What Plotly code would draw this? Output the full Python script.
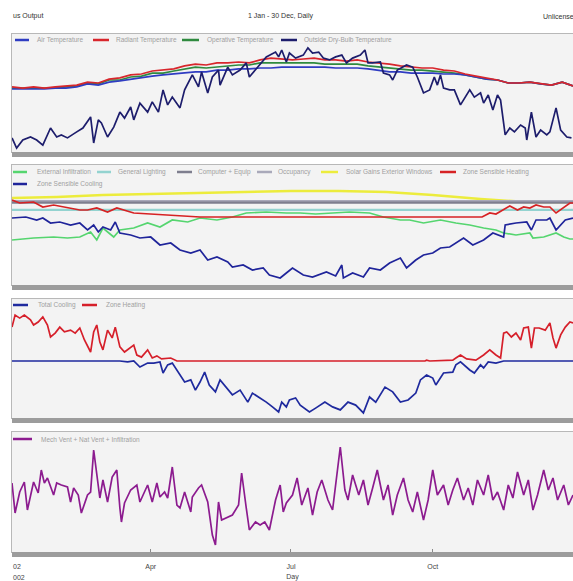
import pandas as pd
import plotly.graph_objects as go

# ---------------- DATA ----------------
# Panel 1 : temperatures (deg C)
indoor_days = [1, 8, 15, 22, 29, 36, 43, 50, 57, 64, 71, 78, 85, 92, 99, 106, 113, 120, 127, 134,
               141, 148, 155, 162, 169, 176, 183, 190, 197, 204, 211, 218, 225, 232, 239, 246, 253,
               260, 267, 274, 281, 288, 295, 302, 309, 316, 323, 330, 337, 344, 351, 358, 365]
radiant_temp = [21.7, 21.3, 21.7, 21.3, 21.7, 22.0, 22.3, 23.3, 23.0, 24.3, 24.7, 25.7, 26.0, 27.0,
                27.3, 27.7, 28.7, 29.3, 29.0, 29.7, 29.7, 30.0, 29.7, 30.7, 31.3, 31.0, 30.7, 31.0,
                31.3, 30.7, 30.7, 30.3, 30.7, 30.0, 29.7, 29.3, 28.7, 28.3, 28.0, 28.0, 27.3, 27.0,
                26.0, 25.3, 24.7, 24.0, 23.0, 23.0, 23.3, 22.7, 22.3, 23.3, 22.0]
operative_temp = [21.3, 21.3, 21.3, 21.3, 21.3, 21.7, 22.0, 23.0, 22.7, 24.0, 24.0, 25.0, 25.3, 26.3,
                  26.3, 27.0, 27.7, 28.3, 28.0, 28.3, 28.7, 29.0, 29.0, 29.7, 29.7, 29.7, 29.7, 29.7,
                  29.7, 29.3, 29.3, 29.3, 29.3, 28.7, 28.3, 28.0, 27.7, 27.3, 27.3, 27.0, 26.7, 26.3,
                  25.7, 25.0, 24.3, 24.0, 23.0, 23.0, 23.3, 22.7, 22.3, 23.3, 22.0]
air_temp = [21.0, 21.0, 21.0, 21.0, 21.3, 21.3, 21.7, 22.7, 22.3, 23.3, 23.7, 24.3, 24.7, 25.3,
            25.7, 26.0, 26.3, 26.7, 26.7, 27.3, 27.3, 27.7, 27.7, 28.0, 28.0, 28.3, 28.3, 28.3,
            28.3, 28.3, 28.0, 28.0, 28.0, 27.7, 27.3, 26.7, 26.7, 26.3, 26.3, 26.3, 26.0, 26.0,
            25.7, 25.0, 24.3, 24.0, 23.0, 23.0, 23.3, 22.7, 22.3, 23.3, 22.0]
outdoor_days = [1, 4, 8, 13, 17, 21, 26, 30, 33, 37, 43, 47, 52, 54, 57, 59, 63, 67, 71, 74,
                78, 80, 84, 89, 92, 96, 99, 102, 105, 110, 113, 117, 118, 122, 124, 128, 131, 135, 136, 141,
                144, 149, 153, 155, 160, 164, 166, 172, 174, 176, 179, 181, 185, 190, 193, 196, 200, 203, 207, 211,
                215, 218, 222, 227, 230, 232, 235, 240, 242, 246, 248, 251, 257, 261, 264, 268, 272, 275, 277, 279,
                281, 285, 288, 292, 295, 298, 301, 305, 307, 310, 313, 316, 318, 321, 324, 327, 331, 334, 335, 337,
                338, 341, 344, 348, 350, 352, 354, 357, 361, 364]
outdoor_temp = [4.7, 1.3, 4.0, 5.0, 4.0, 2.3, 8.0, 5.0, 5.7, 4.7, 6.7, 8.0, 11.7, 3.0, 10.7, 9.7, 5.0, 8.3, 13.3, 11.3,
                15.0, 10.7, 16.3, 13.3, 16.7, 13.3, 20.7, 15.7, 18.3, 14.7, 20.7, 25.0, 25.7, 21.7, 26.7, 19.7, 25.0, 27.3, 22.3, 28.3,
                25.7, 27.3, 29.7, 25.0, 28.0, 30.7, 31.7, 33.3, 31.7, 34.0, 30.0, 33.0, 31.3, 32.3, 34.7, 33.0, 33.3, 31.3, 30.7, 31.7,
                32.3, 29.7, 31.3, 32.3, 34.0, 29.7, 29.7, 30.0, 26.3, 25.7, 24.0, 27.3, 29.0, 28.3, 25.0, 19.7, 20.7, 25.0, 22.3, 25.7,
                21.3, 20.7, 20.7, 15.7, 18.0, 20.7, 18.3, 19.7, 16.3, 19.0, 14.0, 19.0, 17.3, 5.7, 8.0, 6.7, 9.0, 8.0, 4.0, 10.7,
                13.3, 5.0, 7.3, 5.7, 6.7, 10.7, 14.7, 7.3, 5.0, 4.7]

# Panel 2 : heat balance (kWh)
infiltration_days = [1, 15, 28, 37, 45, 52, 56, 60, 67, 71, 80, 89, 97, 105, 115, 123, 134, 144, 153, 166,
                     179, 188, 198, 209, 220, 233, 242, 253, 259, 268, 279, 289, 298, 307, 315, 320, 328, 337, 339, 346,
                     354, 359, 363, 365]
infiltration_gain = [-5.75, -5.25, -5.0, -5.25, -5.0, -3.75, -5.75, -2.75, -5.0, -3.25, -2.75, -1.5, -2.5, -0.75, -1.25, -0.25, -0.75, 0, 1.0, 1.25,
                     1.0, 1.0, 0.75, 1.0, 1.25, 1.0, 0, -0.75, -0.75, -1.5, -0.75, -1.5, -2.0, -2.75, -3.25, -4.0, -4.5, -4.0, -5.25, -5.0,
                     -4.0, -5.0, -5.5, -5.5]
flat_days = [1, 365]
lighting_gain = [1.8, 1.8]
computer_gain = [3.6, 3.6]
occupancy_gain = [4.0, 4.0]
solar_days = [1, 30, 60, 91, 121, 152, 182, 213, 244, 274, 305, 335, 365]
solar_gain = [4.75, 5.0, 5.5, 5.75, 6.0, 6.25, 6.5, 6.5, 6.25, 5.5, 4.5, 3.75, 3.75]
sens_heat_days = [1, 6, 15, 21, 28, 37, 45, 50, 56, 63, 69, 80, 91, 102, 123, 306, 311, 315, 320, 324,
                  329, 333, 337, 341, 346, 350, 354, 359, 363, 365]
sens_heat = [4.25, 3.5, 3.75, 2.5, 3.0, 2.25, 1.75, 1.75, 2.25, 1.25, 2.25, 1.0, 0.75, 0.5, 0, 0, 1.0, 0.75, 1.75, 2.75,
             1.75, 2.5, 2.25, 3.0, 2.5, 2.5, 1.0, 2.5, 3.5, 3.5]
sens_cool_days = [1, 10, 17, 21, 26, 32, 39, 45, 50, 54, 57, 60, 65, 68, 71, 78, 84, 91, 97, 104,
                  110, 117, 123, 128, 134, 141, 144, 151, 157, 164, 168, 175, 179, 183, 190, 196, 205, 211, 215, 216,
                  222, 229, 233, 240, 246, 253, 257, 263, 268, 274, 279, 285, 294, 300, 307, 313, 320, 321, 328, 335,
                  338, 341, 348, 350, 354, 360, 365]
sens_cool = [-0.25, 0, -0.75, -0.25, -1.5, -1.25, -2.0, -1.5, -3.25, -2.0, -3.75, -2.5, -3.25, -1.25, -4.0, -4.5, -5.25, -5.0, -7.0, -6.5,
             -8.25, -9.0, -8.25, -10.75, -10.0, -11.25, -12.5, -12.0, -13.25, -12.75, -14.5, -15.25, -14.0, -12.75, -14.5, -15.0, -13.75, -14.75, -12.0, -15.25,
             -14.0, -15.0, -12.75, -13.25, -11.5, -10.25, -12.75, -10.75, -9.5, -9.0, -7.75, -7.5, -5.25, -7.0, -5.75, -4.0, -5.0, -2.0, -1.5, -1.25,
             -3.25, -0.75, -0.75, -0.25, -3.25, -0.75, -0.25]

# Panel 3 : heating / cooling loads (kWh)
zone_heat_days = [1, 3, 6, 9, 13, 15, 18, 21, 24, 26, 29, 32, 35, 39, 42, 45, 48, 52, 54, 56,
                  58, 60, 63, 66, 68, 71, 74, 76, 80, 82, 85, 89, 92, 95, 98, 104, 108, 269, 270, 272,
                  287, 289, 292, 296, 302, 307, 311, 315, 318, 320, 322, 325, 328, 331, 333, 336, 338, 340, 343, 347,
                  350, 352, 354, 357, 360, 363, 365]
zone_heat = [11.3, 15.3, 14.3, 15.3, 13.7, 12.0, 13.0, 14.7, 12.0, 8.0, 9.3, 11.3, 9.7, 10.3, 9.3, 11.0, 7.0, 3.0, 9.7, 12.0,
             6.3, 3.7, 10.3, 7.7, 11.3, 4.7, 3.0, 3.7, 5.3, 2.0, 1.3, 3.7, 1.0, 1.7, 0.7, 1.0, 0, 0, 0.3, 0,
             0.3, 1.0, 2.0, 0.7, 0.3, 2.0, 3.7, 2.0, 1.0, 9.3, 9.7, 8.0, 9.3, 7.0, 11.0, 11.3, 4.3, 11.0, 11.0, 10.3,
             12.7, 7.7, 4.3, 8.7, 11.3, 13.0, 12.7]
total_cool_days = [1, 71, 76, 80, 84, 89, 93, 97, 99, 102, 105, 109, 113, 117, 120, 123, 126, 129, 133, 136,
                   140, 144, 149, 154, 157, 162, 166, 170, 174, 176, 179, 181, 185, 188, 194, 198, 204, 209, 214, 219,
                   224, 229, 233, 237, 243, 248, 253, 258, 263, 266, 270, 274, 276, 281, 287, 289, 292, 298, 301, 305,
                   307, 310, 315, 320, 365]
total_cool = [0, 0, -0.3, 0, -2.0, -0.7, -0.7, -0.3, -4.0, -1.3, -0.7, -4.0, -7.0, -6.3, -9.7, -7.0, -3.7, -8.0, -10.3, -6.3,
              -9.0, -11.3, -9.7, -13.7, -10.7, -12.3, -13.7, -15.3, -17.0, -13.7, -15.3, -13.0, -12.3, -14.7, -17.0, -15.7, -13.7, -15.3, -16.3, -13.7,
              -14.7, -17.3, -12.0, -13.7, -8.7, -10.3, -13.7, -13.0, -10.7, -6.3, -4.7, -5.7, -8.0, -4.0, -3.7, -1.3, -0.3, -3.0, -4.0, -1.3,
              -2.3, -0.3, -0.7, 0, 0]

# Panel 4 : ventilation + infiltration (ac/h)
vent_days = [1, 3, 6, 9, 11, 15, 18, 20, 22, 24, 28, 30, 33, 37, 39, 41, 44, 46, 50, 52,
             54, 56, 58, 60, 63, 66, 69, 71, 72, 74, 78, 82, 84, 89, 92, 95, 97, 100, 102, 105,
             108, 110, 113, 117, 118, 122, 124, 128, 131, 133, 135, 137, 141, 144, 148, 150, 153, 155, 159, 162,
             165, 168, 172, 175, 177, 179,
             183, 186, 189, 193, 196, 199, 202, 206, 209, 212, 214, 217, 219, 222, 226, 229, 232, 235, 238, 242,
             245, 248, 251, 255, 258, 261, 264, 268, 271, 274, 277, 281, 284, 287, 290, 294, 297, 300, 303, 307,
             310, 313, 316, 320, 323, 326, 329, 333, 336, 339, 342, 346, 349, 352, 355, 359, 362, 365]
vent_ach = [3.45, 1.95, 3.0, 3.5, 2.1, 3.5, 2.95, 4.1, 3.45, 3.7, 2.85, 3.45, 3.35, 3.25, 2.5, 3.2, 2.85, 1.95, 2.85, 3.0,
            5.1, 3.85, 2.7, 3.6, 2.5, 3.75, 4.1, 2.2, 1.5, 2.45, 3.1, 3.35, 2.5, 3.35, 2.5, 3.45, 2.75, 3.0, 2.7, 4.25,
            2.35, 2.2, 3.0, 2.0, 2.75, 3.2, 3.35, 2.5, 0.85, 0.35, 2.5, 1.6, 1.75, 1.85, 2.35, 3.95, 2.2, 1.1, 1.5, 1.35,
            1.5, 1.1, 2.6, 3.35, 2.0, 2.45,
            2.85, 3.7, 2.35, 3.2, 1.85, 3.0, 3.6, 2.6, 2.1, 4.1, 5.25, 3.1, 2.6, 3.85, 2.85, 3.6, 2.35, 3.2, 4.1, 2.6,
            3.35, 1.85, 2.85, 3.7, 2.6, 2.0, 3.0, 1.6, 2.6, 4.1, 2.85, 3.35, 2.35, 3.1, 3.7, 2.6, 3.2, 2.35, 3.6, 2.85,
            3.85, 2.6, 3.0, 2.1, 3.35, 2.7, 4.0, 2.85, 3.6, 2.1, 2.85, 4.1, 3.1, 3.7, 2.6, 3.35, 2.35, 2.85]

month_ticks = ["2002-04-01", "2002-07-01", "2002-10-01"]
month_labels = ["Apr", "Jul", "Oct"]

# ---------------- LAYOUT HELPERS ----------------
W, H = 573, 581
FONT = "Liberation Sans"


def px(x):
    return x / W


def py(y):
    return 1 - y / H


start = pd.Timestamp("2002-01-01")


def to_dates(days):
    return [start + pd.Timedelta(days=d - 1) for d in days]


fig = go.Figure()


def add(days, vals, color, name, panel, width=1.7):
    sfx = "" if panel == 1 else str(panel)
    fig.add_trace(go.Scatter(x=to_dates(days), y=vals, mode="lines", name=name,
                             line=dict(color=color, width=width),
                             xaxis="x" + sfx, yaxis="y" + sfx, showlegend=False,
                             hoverinfo="skip"))


C = dict(air="#2f3cc2", rad="#d8262c", oper="#2f8a3f", out="#1d1d6c",
         infil="#55d56f", light="#93d3d0", comp="#7e7e8e", occ="#a9a9ba",
         solar="#ecec3c", sheat="#d62224", scool="#1f249a",
         tcool="#1f2a9e", zheat="#d61f2a", vent="#8c1b8f")

# panel 1
add(indoor_days, operative_temp, C["oper"], "Operative Temperature", 1)
add(indoor_days, air_temp, C["air"], "Air Temperature", 1)
add(indoor_days, radiant_temp, C["rad"], "Radiant Temperature", 1)
add(outdoor_days, outdoor_temp, C["out"], "Outside Dry-Bulb Temperature", 1)
# panel 2
add(solar_days, solar_gain, C["solar"], "Solar Gains Exterior Windows", 2, 2.5)
add(flat_days, occupancy_gain, C["occ"], "Occupancy", 2, 2.2)
add(flat_days, computer_gain, C["comp"], "Computer + Equip", 2, 2.2)
add(flat_days, lighting_gain, C["light"], "General Lighting", 2, 2.2)
add(infiltration_days, infiltration_gain, C["infil"], "External Infiltration", 2)
add(sens_heat_days, sens_heat, C["sheat"], "Zone Sensible Heating", 2)
add(sens_cool_days, sens_cool, C["scool"], "Zone Sensible Cooling", 2)
# panel 3
add(zone_heat_days, zone_heat, C["zheat"], "Zone Heating", 3)
add(total_cool_days, total_cool, C["tcool"], "Total Cooling", 3)
# panel 4
add(vent_days, vent_ach, C["vent"], "Mech Vent + Nat Vent + Infiltration", 4)

# panel frames (top, bottom) in pixels and y ranges
panels = {1: (34, 152, [0, 39.33]),
          2: (165, 285, [-17, 13]),
          3: (299, 418, [-19.0, 20.67]),
          4: (432, 552, [0, 6])}

frame = "#b8b8b8"
layout = dict(width=W, height=H, autosize=False,
              margin=dict(l=0, r=0, t=0, b=0),
              paper_bgcolor="white", plot_bgcolor="#f3f3f3",
              font=dict(family=FONT, size=7, color="#444444"))
for p, (top, bot, rng) in panels.items():
    sfx = "" if p == 1 else str(p)
    xa = dict(domain=[px(12), 1.0], range=[start, pd.Timestamp("2002-12-31")],
              showgrid=False, zeroline=False, showline=True, mirror=True,
              linecolor=frame, linewidth=1, anchor="y" + sfx,
              showticklabels=False, ticks="")
    if p != 1:
        xa["matches"] = "x"
    if p == 4:
        xa.update(showticklabels=True, tickvals=month_ticks, ticktext=month_labels,
                  ticks="inside", ticklen=3, tickcolor="#8a8a8a",
                  tickfont=dict(size=7, color="#444444"), ticklabelstandoff=8,
                  title=dict(text="Day", font=dict(size=7, color="#444444"), standoff=3))
    ya = dict(domain=[py(bot), py(top)], range=rng, showgrid=False, zeroline=False,
              showline=True, mirror=True, linecolor=frame, linewidth=1,
              showticklabels=False, ticks="", anchor="x" + sfx)
    layout["xaxis" + sfx] = xa
    layout["yaxis" + sfx] = ya
fig.update_layout(**layout)

shapes = []
annotations = []
# bottom shadow bars of the panels
for p, (top, bot, rng) in panels.items():
    shapes.append(dict(type="rect", xref="paper", yref="paper", x0=px(12), x1=1.0,
                       y0=py(bot + 5), y1=py(bot), fillcolor="#9c9c9c",
                       line=dict(width=0), layer="above"))


def legend_item(x0, x1, y, color, text, tx):
    shapes.append(dict(type="line", xref="paper", yref="paper", x0=px(x0), x1=px(x1),
                       y0=py(y), y1=py(y), line=dict(color=color, width=2.5)))
    annotations.append(dict(text=text, x=px(tx), y=py(y), xref="paper", yref="paper",
                            xanchor="left", yanchor="middle", showarrow=False,
                            font=dict(size=6.5, color="#a0a0a0", family=FONT)))


legend_item(15, 29, 40, C["air"], "Air Temperature", 35)
legend_item(93, 109, 40, C["rad"], "Radiant Temperature", 114)
legend_item(182, 199, 40, C["oper"], "Operative Temperature", 205)
legend_item(281, 297, 40, C["out"], "Outside Dry-Bulb Temperature", 302)

legend_item(13, 27, 172, C["infil"], "External Infiltration", 35)
legend_item(97, 111, 172, C["light"], "General Lighting", 116)
legend_item(177, 192, 172, C["comp"], "Computer + Equip", 196)
legend_item(257, 272, 172, C["occ"], "Occupancy", 276)
legend_item(321, 338, 172, C["solar"], "Solar Gains Exterior Windows", 344)
legend_item(440, 456, 172, C["sheat"], "Zone Sensible Heating", 461)
legend_item(13, 27, 184, C["scool"], "Zone Sensible Cooling", 35)

legend_item(13, 28, 305, C["tcool"], "Total Cooling", 36)
legend_item(82, 97, 305, C["zheat"], "Zone Heating", 104)

legend_item(13, 32, 439, C["vent"], "Mech Vent + Nat Vent + Infiltration", 39)

# header texts
for txt, x, anchor in [("us Output", 11, "left"), ("1 Jan - 30 Dec, Daily", 280, "center"),
                       ("Unlicense", 541, "left")]:
    annotations.append(dict(text=txt, x=px(x), y=py(16), xref="paper", yref="paper",
                            xanchor=anchor, yanchor="middle", showarrow=False,
                            font=dict(size=7, color="#333333", family=FONT)))
for txt, y in [("02", 566), ("002", 577)]:
    annotations.append(dict(text=txt, x=px(11), y=py(y), xref="paper", yref="paper",
                            xanchor="left", yanchor="middle", showarrow=False,
                            font=dict(size=7, color="#444444", family=FONT)))

fig.update_layout(shapes=shapes, annotations=annotations)

fig.write_html("out.html", config={"displayModeBar": False},
               post_script="document.body.style.margin='0px';")
